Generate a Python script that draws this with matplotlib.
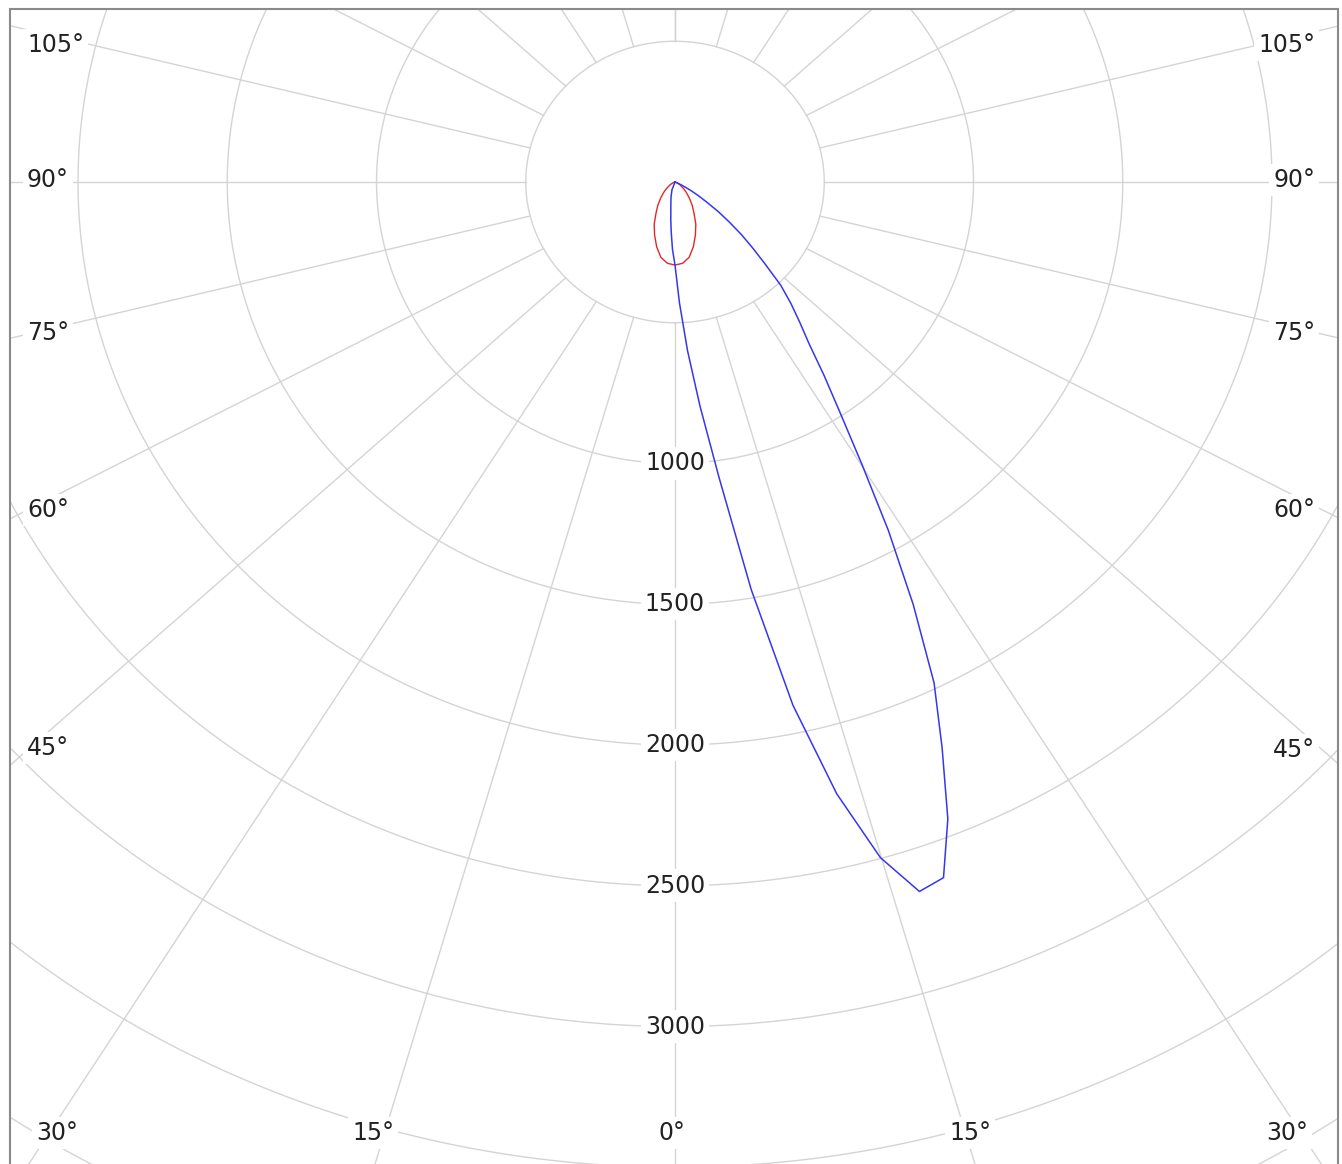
import numpy as np
import matplotlib
matplotlib.use("Agg")
import matplotlib.pyplot as plt
from matplotlib.patches import Rectangle

# ---------------- data ----------------
gamma_blue = [-90, -30, -20, -14, -10, -8, -6, -4, -2, 0, 2, 4, 6, 8, 10, 12, 14, 16, 18,
              20, 22, 24, 26, 28, 30, 32, 34, 36, 38, 40, 42, 44, 46, 48, 50, 52, 54,
              56, 58, 60, 62, 64, 66, 68, 70, 90]
intensity_blue = [0, 0, 30, 55, 80, 100, 135, 180, 240, 295, 430, 600, 800, 1060, 1470,
                  1900, 2240, 2497, 2650, 2630, 2440, 2200, 1980, 1700, 1430, 1180, 990,
                  850, 730, 650, 580, 510, 420, 350, 290, 230, 180, 130, 95, 65, 40, 22,
                  10, 3, 0, 0]

gamma_red = [-90, -80, -70, -60, -50, -45, -40, -35, -30, -25, -20, -15, -10, -5, 0,
             5, 10, 15, 20, 25, 30, 35, 40, 45, 50, 60, 70, 80, 90]
intensity_red = [0, 0, 5, 18, 40, 55, 75, 100, 127, 165, 200, 238, 272, 290, 295,
                 290, 272, 238, 200, 165, 127, 100, 75, 55, 40, 18, 5, 0, 0]

radial_ticks = [1000, 1500, 2000, 2500, 3000]
radial_tick_labels = ["1000", "1500", "2000", "2500", "3000"]
grid_radii = [500, 1000, 1500, 2000, 2500, 3000, 3500, 4000, 4500]
grid_angles = list(range(-180, 181, 15))

left_labels = ["105°", "90°", "75°", "60°", "45°"]
right_labels = ["105°", "90°", "75°", "60°", "45°"]
bottom_labels = ["30°", "15°", "0°", "15°", "30°"]

# ---------------- layout ----------------
W, H = 1342, 1164
fig = plt.figure(figsize=(W / 100, H / 100), dpi=100)
fig.patch.set_facecolor("white")

cx, cy = 675.0, 182.0          # pixel centre (from top)
sx, sy = 0.2985, 0.2815        # px per cd horizontally / vertically
RMAX = 4500
aw, ah = 2 * RMAX * sx, 2 * RMAX * sy
ax = fig.add_axes([(cx - aw / 2) / W, ((H - cy) - ah / 2) / H, aw / W, ah / H],
                  projection="polar")
ax.set_aspect("auto")
ax.set_theta_zero_location("S")
ax.set_theta_direction(1)
ax.set_ylim(0, RMAX)
ax.set_xticks([])
ax.set_yticks([])
ax.grid(False)
ax.spines["polar"].set_visible(False)
ax.patch.set_facecolor("white")

gcol = "#d4d4d4"
tt = np.linspace(0, 2 * np.pi, 1441)
for r in grid_radii:
    ax.plot(tt, np.full_like(tt, r), color=gcol, lw=1.0, zorder=1)
k = 1.075
for a in grid_angles:
    t = np.arctan2(k * np.sin(np.radians(a)), np.cos(np.radians(a)))
    ax.plot([t, t], [500, RMAX], color=gcol, lw=1.0, zorder=1)

ax.plot(np.radians(gamma_red), intensity_red, color="#e02828", lw=1.0, zorder=3)
ax.plot(np.radians(gamma_blue), intensity_blue, color="#3636ee", lw=1.1, zorder=4)

tcol = "#222222"
bbox = dict(facecolor="white", edgecolor="none", pad=3)
for r, lab in zip(radial_ticks, radial_tick_labels):
    ax.text(0, r, lab, ha="center", va="center", fontsize=17, color=tcol,
            bbox=bbox, zorder=5)

# mask outside frame + frame
fl, ft, fr = 9.5, 8.5, 1338.0
masks = [(0, 0, fl / W, 1), (0, 1 - ft / H, 1, ft / H), (fr / W, 0, 1 - fr / W, 1)]
for (x0, y0, w0, h0) in masks:
    fig.add_artist(Rectangle((x0, y0), w0, h0, transform=fig.transFigure,
                             facecolor="white", edgecolor="none", zorder=10))
fig.add_artist(Rectangle((fl / W, -0.05), (fr - fl) / W, 1.05 - ft / H,
                         transform=fig.transFigure, facecolor="none",
                         edgecolor="#8a8a8a", lw=1.5, zorder=11))

left_y = [45, 180, 333, 510, 748]
right_y = [45, 180, 333, 510, 750]
bottom_x = [57, 373, 672, 970, 1287]
for lab, y in zip(left_labels, left_y):
    fig.text(27 / W, 1 - y / H, lab, ha="left", va="center", fontsize=17,
             color=tcol, bbox=bbox, zorder=12)
for lab, y in zip(right_labels, right_y):
    fig.text(1315 / W, 1 - y / H, lab, ha="right", va="center", fontsize=17,
             color=tcol, bbox=bbox, zorder=12)
for lab, x in zip(bottom_labels, bottom_x):
    fig.text(x / W, 1 - 1133 / H, lab, ha="center", va="center", fontsize=17,
             color=tcol, bbox=bbox, zorder=12)

fig.savefig("out.png", dpi=100, facecolor="white")
